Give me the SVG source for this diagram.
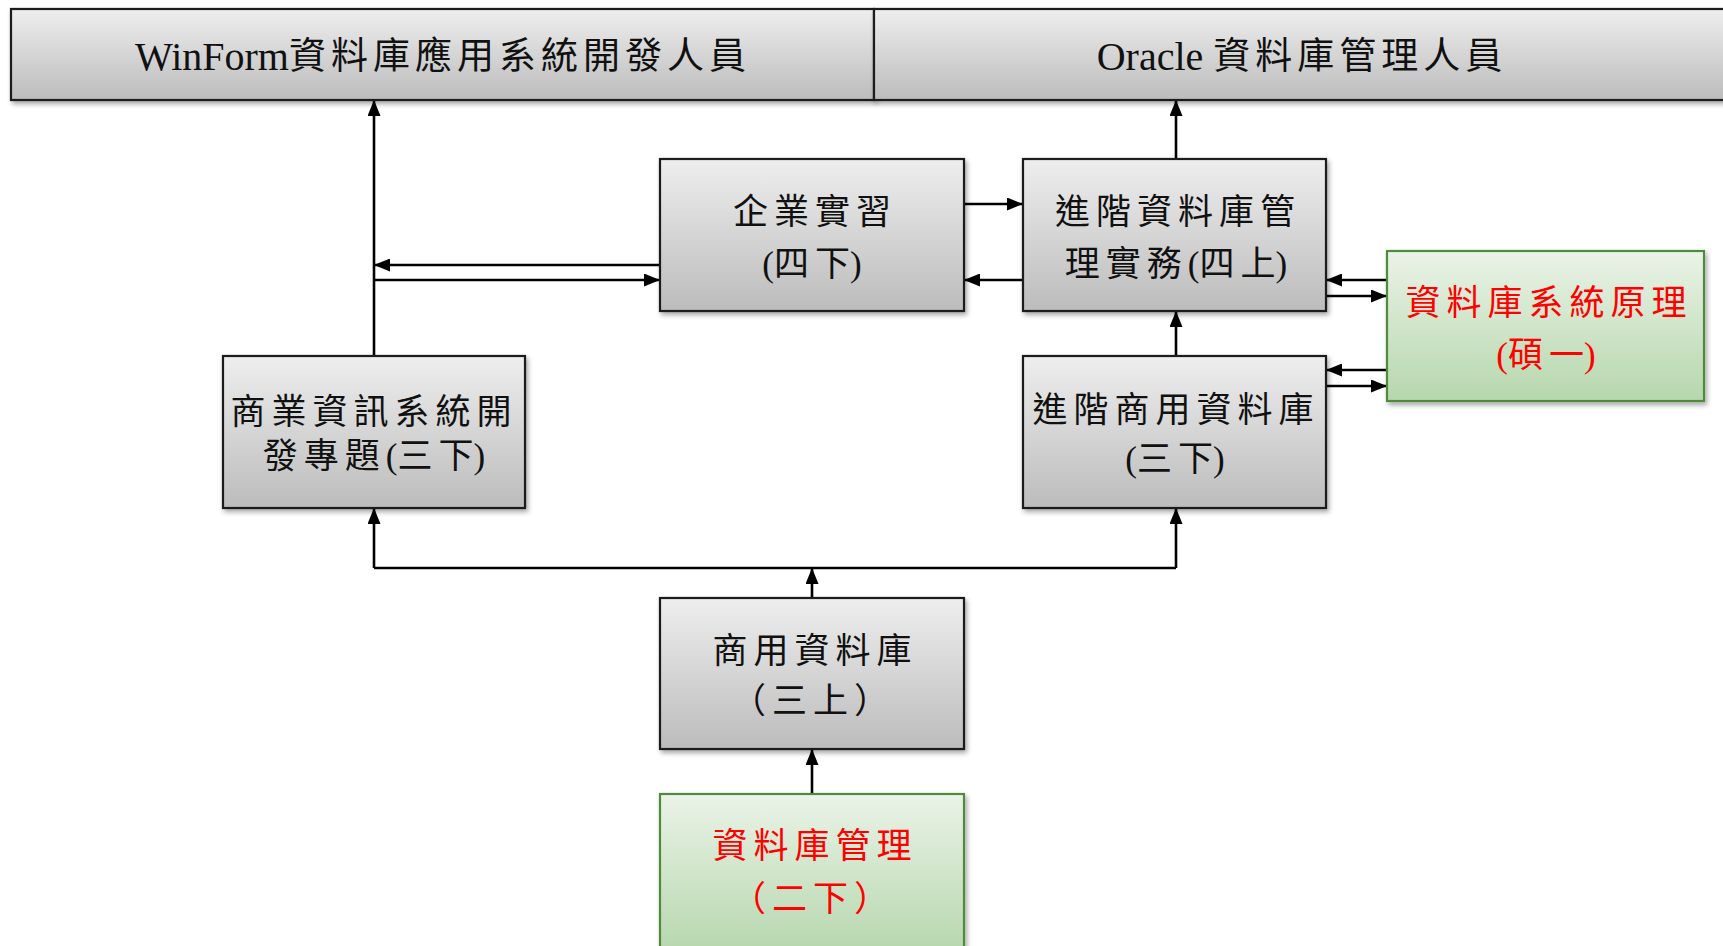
<svg xmlns="http://www.w3.org/2000/svg" width="1723" height="946" viewBox="0 0 1723 946">
<style>
.box{stroke:#1a1a1a;stroke-width:2.2;fill:url(#gray)}
.gbox{stroke:#4f8a3c;stroke-width:2.2;fill:url(#green)}
.t{font-family:"Liberation Serif","Noto Sans CJK TC",serif;font-size:35px;fill:#111;text-anchor:middle;dominant-baseline:central;letter-spacing:6px}
.r{fill:#ff0000}
.hd{font-family:"Liberation Serif","Noto Sans CJK TC",serif;font-size:37px;fill:#111;text-anchor:middle;dominant-baseline:central;letter-spacing:5px}
.c{fill:none;stroke:#000;stroke-width:2.6}
.a{marker-end:url(#arr)}
.p{letter-spacing:0}
</style>
<defs>
<linearGradient id="gray" x1="0" y1="0" x2="0" y2="1">
<stop offset="0" stop-color="#eeeeee"/>
<stop offset="1" stop-color="#bcbcbc"/>
</linearGradient>
<linearGradient id="green" x1="0" y1="0" x2="0" y2="1">
<stop offset="0" stop-color="#eaf3e7"/>
<stop offset="1" stop-color="#b6d7ad"/>
</linearGradient>
<filter id="sh" x="-10%" y="-10%" width="130%" height="130%">
<feDropShadow dx="2" dy="3" stdDeviation="2.5" flood-color="#000" flood-opacity="0.35"/>
</filter>
<marker id="arr" viewBox="0 0 16 13" refX="15" refY="6.5" markerWidth="16" markerHeight="13" markerUnits="userSpaceOnUse" orient="auto">
<path d="M0,0 L16,6.5 L0,13 Z" fill="#000"/>
</marker>
</defs>

<g id="connectors">
<path class="c a" d="M374,356 V101"/>
<path class="c a" d="M660,265 H375"/>
<path class="c a" d="M374,280 H659"/>
<path class="c a" d="M964,204 H1022"/>
<path class="c a" d="M1023,280 H965"/>
<path class="c a" d="M1176,159 V101"/>
<path class="c a" d="M1176,356 V312"/>
<path class="c a" d="M1387,280 H1327"/>
<path class="c a" d="M1326,296 H1386"/>
<path class="c a" d="M1387,370 H1327"/>
<path class="c a" d="M1326,386 H1386"/>
<path class="c" d="M374,568 H1176"/>
<path class="c a" d="M374,568 V509"/>
<path class="c a" d="M1176,568 V509"/>
<path class="c a" d="M812,598 V569"/>
<path class="c a" d="M812,794 V750"/>
</g>

<g id="header-winform">
<rect class="box" x="11" y="9" width="863" height="91" filter="url(#sh)"/>
<text class="hd" x="443" y="56"><tspan font-size="40" letter-spacing="0">WinForm</tspan>資料庫應用系統開發人員</text>
</g>
<g id="header-oracle">
<rect class="box" x="874" y="9" width="870" height="91" filter="url(#sh)"/>
<text class="hd" x="1302" y="56"><tspan font-size="40" letter-spacing="0">Oracle </tspan>資料庫管理人員</text>
</g>

<g id="node-internship">
<rect class="box" x="660" y="159" width="304" height="152" filter="url(#sh)"/>
<text class="t" x="815" y="212">企業實習</text>
<text class="t" x="812" y="264"><tspan class="p">(</tspan>四<tspan class="p">下)</tspan></text>
</g>

<g id="node-adv-mgmt">
<rect class="box" x="1023" y="159" width="303" height="152" filter="url(#sh)"/>
<text class="t" x="1178" y="212">進階資料庫管</text>
<text class="t" x="1176" y="264">理實務<tspan class="p">(</tspan>四<tspan class="p">上)</tspan></text>
</g>

<g id="node-principle">
<rect class="gbox" x="1387" y="251" width="317" height="150" filter="url(#sh)"/>
<text class="t r" x="1549" y="303">資料庫系統原理</text>
<text class="t r" x="1546" y="355"><tspan class="p">(</tspan>碩<tspan class="p">一)</tspan></text>
</g>

<g id="node-bis-project">
<rect class="box" x="223" y="356" width="302" height="152" filter="url(#sh)"/>
<text class="t" x="374" y="412" letter-spacing="1">商業資訊系統開</text>
<text class="t" x="374" y="456" letter-spacing="1">發專題<tspan class="p">(</tspan>三<tspan class="p">下)</tspan></text>
</g>

<g id="node-adv-commercial">
<rect class="box" x="1023" y="356" width="303" height="152" filter="url(#sh)"/>
<text class="t" x="1176" y="410" letter-spacing="2">進階商用資料庫</text>
<text class="t" x="1175" y="459"><tspan class="p">(</tspan>三<tspan class="p">下)</tspan></text>
</g>

<g id="node-commercial">
<rect class="box" x="660" y="598" width="304" height="151" filter="url(#sh)"/>
<text class="t" x="815" y="651">商用資料庫</text>
<text class="t" x="813" y="701" letter-spacing="0">（三上）</text>
</g>

<g id="node-db-mgmt">
<rect class="gbox" x="660" y="794" width="304" height="160" filter="url(#sh)"/>
<text class="t r" x="815" y="846">資料庫管理</text>
<text class="t r" x="813" y="899" letter-spacing="0">（二下）</text>
</g>
</svg>
